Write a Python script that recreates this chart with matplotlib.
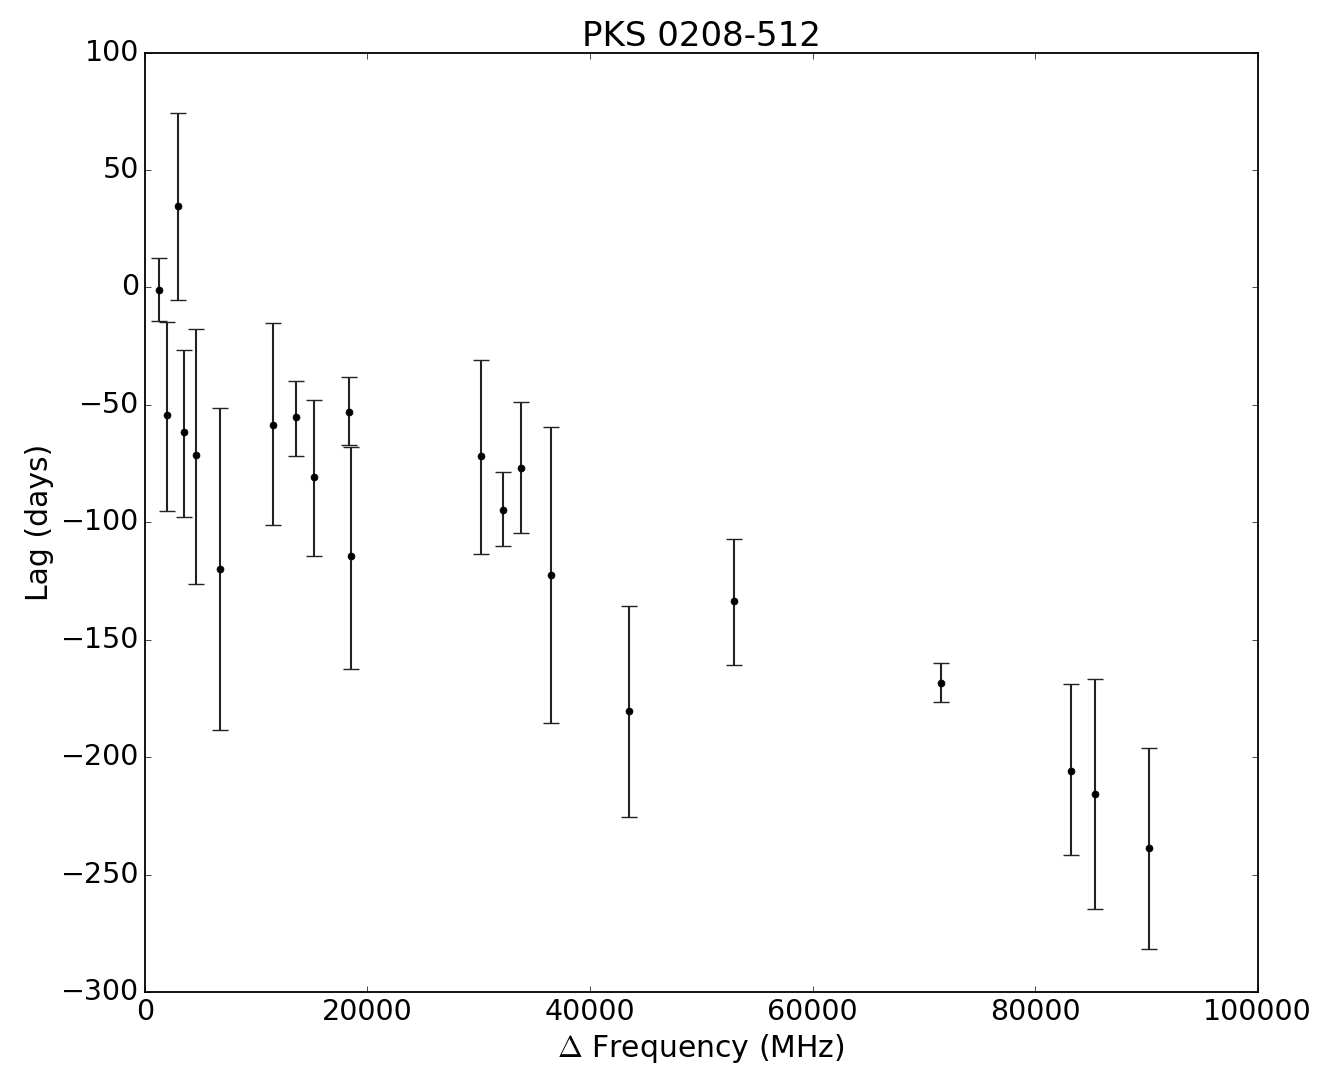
import matplotlib
matplotlib.use("Agg")
from matplotlib import pyplot as plt

# lag vs frequency separation
freq = [1258, 1977, 2965, 3504, 4582, 6739, 11500, 13567, 15184, 18329, 18508,
        30189, 32165, 33782, 36478, 43486, 52920, 71519, 83199, 85355, 90207]
lag = [-1.0, -54.2, 34.8, -61.4, -71.2, -119.8, -58.5, -55.1, -80.6, -52.9, -114.3,
       -71.7, -94.7, -76.8, -122.4, -180.3, -133.4, -168.4, -205.9, -215.7, -238.7]
lag_hi = [12.7, -14.6, 74.4, -26.5, -17.6, -51.2, -15.0, -39.7, -47.8, -38.0, -67.8,
          -30.8, -78.5, -48.7, -59.3, -135.6, -107.0, -159.9, -168.8, -166.7, -196.1]
lag_lo = [-14.2, -95.1, -5.2, -97.7, -126.2, -188.4, -101.1, -71.7, -114.3, -67.0, -162.4,
          -113.4, -110.0, -104.5, -185.4, -225.5, -160.7, -176.5, -241.6, -264.6, -281.7]

err_lo = [l - lo for l, lo in zip(lag, lag_lo)]
err_hi = [hi - l for l, hi in zip(lag, lag_hi)]

plt.style.use("classic")
plt.rcParams["font.size"] = 21.5
plt.rcParams["xtick.labelsize"] = 20.5
plt.rcParams["ytick.labelsize"] = 20.5
plt.rcParams["axes.linewidth"] = 1.3

fig = plt.figure(figsize=(13.17, 10.74), dpi=100)
ax = fig.add_axes([0.110, 0.0764, 0.845, 0.8746])
ax.errorbar(freq, lag, yerr=[err_lo, err_hi], fmt="o", color="k", ecolor="#222222",
            markersize=5, capsize=6, elinewidth=1.5, capthick=1.0)
ax.set_xlim(0, 100000)
ax.set_ylim(-300, 100)
ax.set_xlabel(r"$\Delta$ Frequency (MHz)")
ax.set_ylabel("Lag (days)")
ax.set_title("PKS 0208-512", fontsize=24.5)
fig.savefig("out.png", dpi=100)
